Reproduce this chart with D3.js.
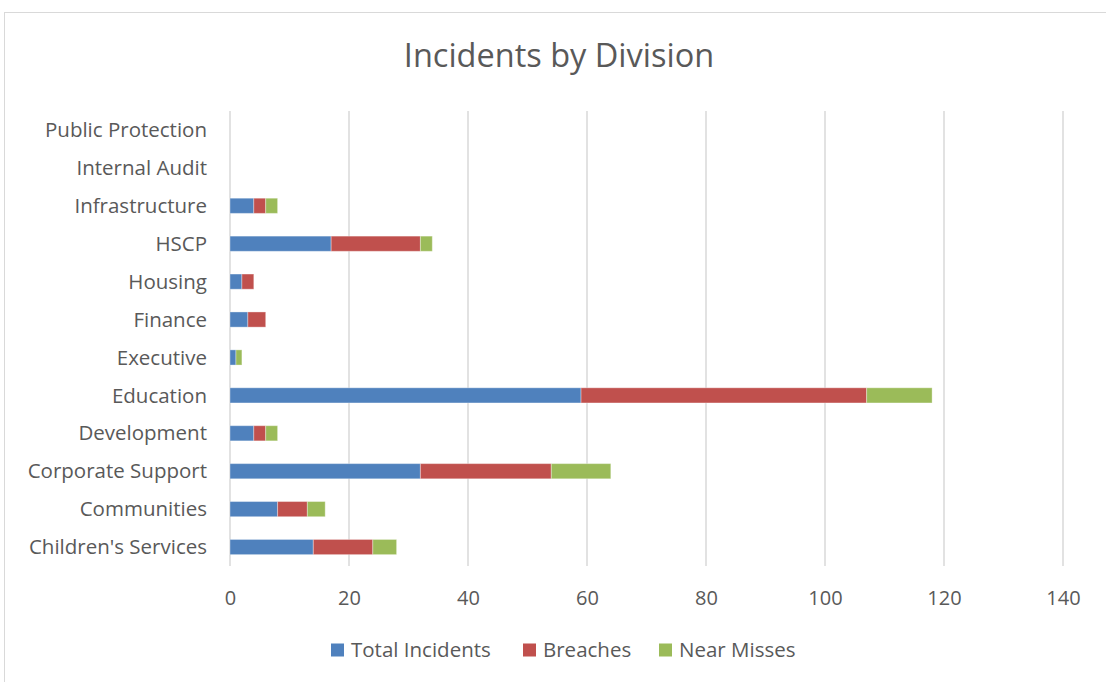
<!DOCTYPE html>
<html>
<head>
<meta charset="utf-8">
<script src="https://cdn.jsdelivr.net/npm/d3@7"></script>
<style>
  body { margin: 0; background: #fff; }
  svg { display: block; }
</style>
</head>
<body>
<script>
// categories, top to bottom as shown
const divisions = ["Public Protection", "Internal Audit", "Infrastructure", "HSCP", "Housing",
  "Finance", "Executive", "Education", "Development", "Corporate Support", "Communities",
  "Children's Services"];
const totalIncidents = [0, 0, 4, 17, 2, 3, 1, 59, 4, 32, 8, 14];
const breaches = [0, 0, 2, 15, 2, 3, 0, 48, 2, 22, 5, 10];
const nearMisses = [0, 0, 2, 2, 0, 0, 1, 11, 2, 10, 3, 4];
const seriesNames = ["Total Incidents", "Breaches", "Near Misses"];
const xTicks = [0, 20, 40, 60, 80, 100, 120, 140];

const colors = ["#4f81bd", "#c0504d", "#9bbb59"];
const textColor = "#595959";
const font = "'Open Sans', 'Liberation Sans', sans-serif";

const w = 1106, h = 682;
const margin = { left: 230, right: 43, top: 111, bottom: 116 };

const svg = d3.select("body").append("svg").attr("width", w).attr("height", h)
  .style("font-family", font);

// chart frame
svg.append("rect")
  .attr("x", 4.5).attr("y", 12.5).attr("width", 1110).attr("height", 700)
  .attr("fill", "none").attr("stroke", "#d9d9d9").attr("stroke-width", 1);

const rows = divisions.map((d, i) => ({
  name: d,
  "Total Incidents": totalIncidents[i],
  "Breaches": breaches[i],
  "Near Misses": nearMisses[i],
}));
const stacked = d3.stack().keys(seriesNames)(rows);

const x = d3.scaleLinear().domain([0, 140]).range([margin.left, w - margin.right]);
const y = d3.scaleBand().domain(divisions).range([margin.top, h - margin.bottom]).paddingInner(0.6).paddingOuter(0.3);

// gridlines
svg.append("g").selectAll("line").data(xTicks).enter().append("line")
  .attr("x1", (d) => x(d)).attr("x2", (d) => x(d))
  .attr("y1", margin.top).attr("y2", h - margin.bottom)
  .attr("stroke", "#d9d9d9").attr("stroke-width", 1.5);

// bars
svg.append("g").selectAll("g").data(stacked).enter().append("g")
  .attr("fill", (d, i) => colors[i])
  .selectAll("rect").data((d) => d.filter((v) => v[1] - v[0] > 0)).enter().append("rect")
  .attr("x", (d) => x(d[0]))
  .attr("y", (d) => y(d.data.name))
  .attr("width", (d) => x(d[1]) - x(d[0]))
  .attr("height", y.bandwidth())
  .attr("stroke", "rgba(255,255,255,0.35)").attr("stroke-width", 1);

// category labels
svg.append("g").selectAll("text").data(divisions).enter().append("text")
  .attr("x", 207)
  .attr("y", (d) => y(d) + y.bandwidth() / 2)
  .attr("dy", "0.35em")
  .attr("text-anchor", "end")
  .attr("font-size", 20.5)
  .attr("fill", textColor)
  .text((d) => d);

// x tick labels
const xAxis = d3.axisBottom(x).tickValues(xTicks).tickSize(0).tickPadding(0);
const ax = svg.append("g").attr("transform", `translate(0, ${h - margin.bottom + 32})`).call(xAxis);
ax.select(".domain").remove();
ax.selectAll("text").attr("font-size", 20).attr("fill", textColor)
  .attr("font-family", font).attr("dy", "0.35em").attr("y", 0);

// title
svg.append("text")
  .attr("x", 559).attr("y", 56).attr("dy", "0.35em")
  .attr("text-anchor", "middle")
  .attr("font-size", 32.5)
  .attr("fill", textColor)
  .text("Incidents by Division");

// legend
const legendX = [331, 523, 659];
const lg = svg.append("g").selectAll("g").data(seriesNames).enter().append("g")
  .attr("transform", (d, i) => `translate(${legendX[i]}, 650)`);
lg.append("rect").attr("x", 0).attr("y", -6.5).attr("width", 13).attr("height", 13)
  .attr("fill", (d, i) => colors[i]);
lg.append("text").attr("x", 20).attr("y", 0).attr("dy", "0.35em")
  .attr("font-size", 20.5).attr("fill", textColor)
  .text((d) => d);
</script>
</body>
</html>
